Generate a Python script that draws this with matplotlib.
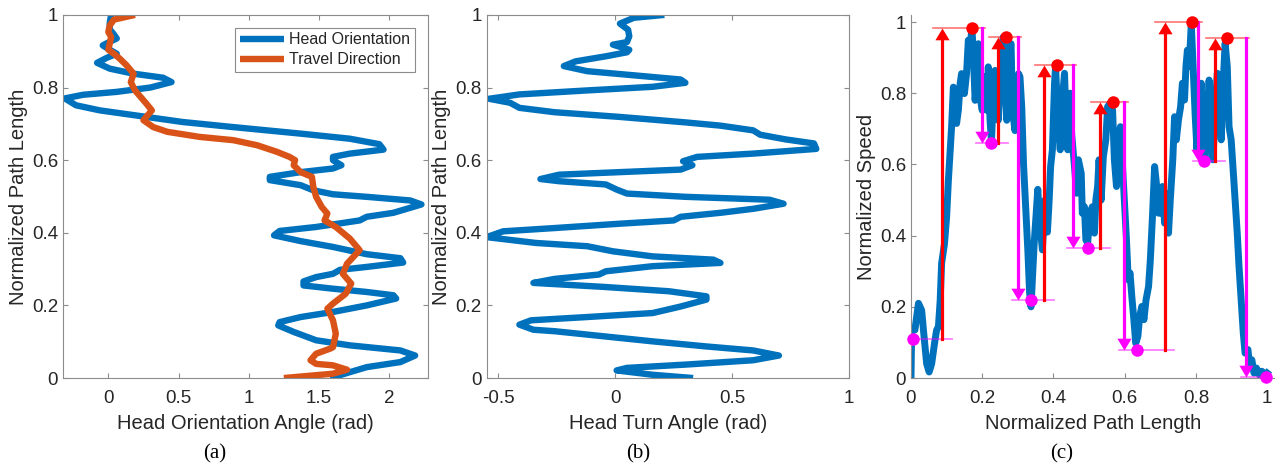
import matplotlib
matplotlib.use("Agg")
import matplotlib.pyplot as plt

# panel (a): head orientation vs travel direction along the path
head_x = [1.58, 1.84, 2.08, 2.185, 2.08, 1.72, 1.48, 1.32, 1.21, 1.22,
          1.37, 1.60, 1.84, 2.05, 2.03, 1.84, 1.60, 1.39, 1.39, 1.48,
          1.60, 1.65, 1.84, 2.10, 2.08, 1.84, 1.60, 1.37, 1.18, 1.22,
          1.48, 1.79, 1.84, 2.03, 2.23, 2.15, 1.84, 1.60, 1.46, 1.37,
          1.15, 1.15, 1.37, 1.60, 1.66, 1.60, 1.60, 1.72, 1.96, 1.93,
          1.72, 1.37, 0.89, 0.53, 0.18, -0.06, -0.23, -0.31, -0.18, 0.06,
          0.30, 0.45, 0.39, 0.18, 0.01, -0.08, -0.01, 0.06, 0.01, -0.04,
          0.01, 0.06, 0.04, 0.01, 0.01, 0.02]
head_y = [0.0, 0.03, 0.044, 0.062, 0.076, 0.09, 0.104, 0.127, 0.145, 0.154,
          0.168, 0.182, 0.2, 0.219, 0.228, 0.237, 0.246, 0.255, 0.266, 0.278,
          0.287, 0.298, 0.306, 0.318, 0.33, 0.341, 0.361, 0.377, 0.393, 0.405,
          0.416, 0.434, 0.444, 0.455, 0.478, 0.489, 0.499, 0.506, 0.517, 0.531,
          0.545, 0.554, 0.567, 0.577, 0.586, 0.6, 0.609, 0.618, 0.629, 0.644,
          0.659, 0.673, 0.691, 0.705, 0.724, 0.737, 0.751, 0.77, 0.78, 0.788,
          0.80, 0.815, 0.827, 0.838, 0.852, 0.868, 0.882, 0.893, 0.904, 0.916,
          0.926, 0.935, 0.946, 0.96, 0.978, 1.0]
travel_x = [1.25, 1.60, 1.70, 1.60, 1.48, 1.44, 1.48, 1.58, 1.60, 1.62,
            1.60, 1.56, 1.60, 1.69, 1.73, 1.67, 1.70, 1.79, 1.72, 1.62,
            1.54, 1.56, 1.52, 1.48, 1.46, 1.45, 1.37, 1.32, 1.33, 1.29,
            1.20, 1.06, 0.89, 0.65, 0.42, 0.32, 0.25, 0.31, 0.27, 0.23,
            0.19, 0.16, 0.18, 0.13, 0.08, 0.04, 0.00, 0.01, 0.02, 0.00,
            0.01, 0.04, 0.19]
travel_y = [0.0, 0.012, 0.023, 0.035, 0.039, 0.049, 0.067, 0.081, 0.085, 0.122,
            0.159, 0.191, 0.205, 0.232, 0.26, 0.287, 0.315, 0.352, 0.384, 0.416,
            0.434, 0.453, 0.471, 0.499, 0.526, 0.554, 0.567, 0.586, 0.6, 0.609,
            0.623, 0.641, 0.655, 0.664, 0.678, 0.691, 0.71, 0.737, 0.756, 0.774,
            0.792, 0.815, 0.838, 0.861, 0.88, 0.893, 0.904, 0.921, 0.939, 0.953,
            0.971, 0.987, 1.0]

# panel (b): head turn angle
turn_x = [0.333, 0.16, 0.006, 0.05, 0.30, 0.59, 0.70, 0.59, 0.39, 0.16,
          -0.05, -0.26, -0.35, -0.41, -0.36, -0.12, 0.16, 0.28, 0.39, 0.39,
          0.23, -0.05, -0.35, -0.26, -0.07, -0.04, 0.16, 0.45, 0.42, 0.16,
          -0.01, -0.12, -0.34, -0.55, -0.48, -0.26, 0.02, 0.25, 0.28, 0.45,
          0.59, 0.72, 0.66, 0.30, 0.05, 0.006, -0.04, -0.24, -0.32, -0.24,
          0.02, 0.28, 0.33, 0.29, 0.35, 0.59, 0.86, 0.85, 0.73, 0.62,
          0.59, 0.45, 0.30, 0.02, -0.26, -0.41, -0.45, -0.54, -0.41, -0.12,
          0.16, 0.30, 0.28, 0.09, -0.12, -0.22, -0.17, -0.04, 0.05, 0.06,
          -0.01, 0.05, 0.06, 0.055, 0.02, 0.08, 0.21]
turn_y = [0.0, 0.009, 0.021, 0.028, 0.037, 0.049, 0.062, 0.076, 0.087, 0.101,
          0.115, 0.129, 0.133, 0.147, 0.159, 0.168, 0.179, 0.197, 0.216, 0.225,
          0.239, 0.251, 0.262, 0.273, 0.285, 0.294, 0.308, 0.317, 0.326, 0.335,
          0.349, 0.363, 0.372, 0.388, 0.404, 0.413, 0.425, 0.434, 0.444, 0.455,
          0.466, 0.48, 0.491, 0.499, 0.508, 0.519, 0.533, 0.542, 0.548, 0.56,
          0.567, 0.574, 0.586, 0.597, 0.609, 0.618, 0.631, 0.646, 0.657, 0.67,
          0.682, 0.695, 0.704, 0.719, 0.732, 0.744, 0.758, 0.769, 0.781, 0.792,
          0.802, 0.813, 0.822, 0.833, 0.845, 0.859, 0.872, 0.886, 0.897, 0.904,
          0.918, 0.925, 0.941, 0.959, 0.976, 0.992, 1.0]

# panel (c): normalized speed along the path
path_x = [0.000, 0.002, 0.011, 0.021, 0.030, 0.035, 0.044, 0.051, 0.058, 0.066,
          0.072, 0.077, 0.082, 0.086, 0.094, 0.100, 0.105, 0.110, 0.114, 0.119,
          0.124, 0.128, 0.133, 0.138, 0.142, 0.150, 0.156, 0.161, 0.166, 0.171,
          0.175, 0.180, 0.185, 0.189, 0.194, 0.200, 0.206, 0.213, 0.217, 0.222,
          0.226, 0.231, 0.236, 0.240, 0.245, 0.253, 0.259, 0.264, 0.269, 0.275,
          0.281, 0.285, 0.292, 0.297, 0.302, 0.306, 0.311, 0.316, 0.322, 0.328,
          0.333, 0.337, 0.341, 0.346, 0.350, 0.356, 0.362, 0.369, 0.376, 0.383,
          0.388, 0.392, 0.397, 0.403, 0.406, 0.412, 0.419, 0.425, 0.431, 0.435,
          0.440, 0.447, 0.451, 0.459, 0.465, 0.470, 0.478, 0.481, 0.487, 0.491,
          0.496, 0.503, 0.509, 0.515, 0.519, 0.524, 0.528, 0.534, 0.540, 0.547,
          0.552, 0.559, 0.566, 0.571, 0.577, 0.582, 0.588, 0.594, 0.599, 0.605,
          0.610, 0.615, 0.620, 0.625, 0.631, 0.637, 0.642, 0.648, 0.654, 0.660,
          0.667, 0.672, 0.678, 0.684, 0.689, 0.695, 0.701, 0.706, 0.712, 0.717,
          0.723, 0.728, 0.735, 0.740, 0.745, 0.751, 0.757, 0.762, 0.768, 0.772,
          0.776, 0.781, 0.787, 0.792, 0.798, 0.803, 0.809, 0.815, 0.820, 0.826,
          0.831, 0.837, 0.843, 0.848, 0.854, 0.860, 0.865, 0.871, 0.876, 0.882,
          0.888, 0.893, 0.899, 0.904, 0.910, 0.916, 0.921, 0.927, 0.933, 0.938,
          0.946, 0.951, 0.957, 0.963, 0.970, 0.978, 0.985, 0.996, 1.000]
speed = [0.000, 0.139, 0.135, 0.210, 0.190, 0.135, 0.040, 0.017, 0.040, 0.097,
         0.135, 0.144, 0.219, 0.322, 0.377, 0.452, 0.555, 0.639, 0.705, 0.817,
         0.780, 0.715, 0.752, 0.827, 0.855, 0.799, 0.855, 0.949, 0.920, 0.986,
         0.911, 0.780, 0.846, 0.939, 0.789, 0.752, 0.846, 0.752, 0.874, 0.724,
         0.663, 0.799, 0.864, 0.799, 0.724, 0.846, 0.958, 0.864, 0.724, 0.920,
         0.939, 0.752, 0.695, 0.799, 0.855, 0.846, 0.760, 0.600, 0.480, 0.360,
         0.240, 0.200, 0.280, 0.380, 0.440, 0.530, 0.430, 0.360, 0.500, 0.410,
         0.500, 0.594, 0.641, 0.828, 0.875, 0.734, 0.641, 0.781, 0.856, 0.734,
         0.641, 0.800, 0.687, 0.594, 0.519, 0.613, 0.575, 0.463, 0.481, 0.388,
         0.379, 0.463, 0.481, 0.407, 0.500, 0.538, 0.613, 0.500, 0.622, 0.669,
         0.762, 0.772, 0.753, 0.613, 0.538, 0.669, 0.706, 0.594, 0.500, 0.388,
         0.276, 0.295, 0.229, 0.173, 0.098, 0.117, 0.173, 0.201, 0.164, 0.220,
         0.257, 0.332, 0.454, 0.594, 0.547, 0.463, 0.463, 0.538, 0.435, 0.519,
         0.407, 0.500, 0.613, 0.734, 0.669, 0.725, 0.762, 0.828, 0.781, 0.875,
         0.921, 0.875, 0.996, 0.875, 0.734, 0.641, 0.781, 0.828, 0.641, 0.613,
         0.725, 0.837, 0.688, 0.613, 0.762, 0.856, 0.781, 0.669, 0.819, 0.940,
         0.875, 0.706, 0.669, 0.594, 0.500, 0.407, 0.313, 0.220, 0.126, 0.070,
         0.080, 0.033, 0.051, 0.014, 0.028, 0.009, 0.019, 0.009, 0.014]

# detected peaks / valleys and where the rise/fall arrows are drawn
peak_x = [0.170, 0.266, 0.409, 0.566, 0.790, 0.887]
peak_y = [0.984, 0.957, 0.879, 0.776, 1.000, 0.954]
valley_x = [0.005, 0.225, 0.336, 0.496, 0.634, 0.823, 0.996]
valley_y = [0.109, 0.660, 0.220, 0.365, 0.080, 0.611, 0.003]
rise_x = [0.088, 0.245, 0.374, 0.532, 0.712, 0.854]
fall_x = [0.198, 0.300, 0.454, 0.599, 0.807, 0.941]

BLUE = '#0072BD'
ORANGE = '#D95319'
GREY = '#262626'
SPINE = '#8c8c8c'

plt.rcParams['font.family'] = ['Liberation Sans', 'DejaVu Sans']
plt.rcParams['axes.edgecolor'] = SPINE
plt.rcParams['axes.linewidth'] = 0.8
plt.rcParams['xtick.color'] = SPINE
plt.rcParams['ytick.color'] = SPINE
plt.rcParams['xtick.labelcolor'] = GREY
plt.rcParams['ytick.labelcolor'] = GREY

fig = plt.figure(figsize=(12.75, 4.65), dpi=100)
ax_a = fig.add_axes([0.0494, 0.187, 0.2861, 0.781])
ax_b = fig.add_axes([0.3817, 0.187, 0.2842, 0.781])
ax_c = fig.add_axes([0.7145, 0.187, 0.2855, 0.781])

lw = 4.6
tick_size = 13.5
label_size = 14.5

# (a)
ax_a.plot(head_x, head_y, color=BLUE, lw=lw, solid_joinstyle='round',
          solid_capstyle='butt', label='Head Orientation')
ax_a.plot(travel_x, travel_y, color=ORANGE, lw=lw, solid_joinstyle='round',
          solid_capstyle='butt', label='Travel Direction')
ax_a.set_xlim(-0.323, 2.275)
ax_a.set_xticks([0, 0.5, 1, 1.5, 2])
ax_a.set_xticklabels(['0', '0.5', '1', '1.5', '2'])
ax_a.set_xlabel('Head Orientation Angle (rad)', fontsize=label_size, color=GREY,
                labelpad=5)
leg = ax_a.legend(loc='upper right', fontsize=11.5, handlelength=2.8,
                  fancybox=False, framealpha=1, edgecolor=SPINE,
                  borderpad=0.3, labelspacing=0.3, handletextpad=0.3,
                  borderaxespad=0.8)
leg.get_frame().set_linewidth(0.8)
for t in leg.get_texts():
    t.set_color(GREY)

# (b)
ax_b.plot(turn_x, turn_y, color=BLUE, lw=lw, solid_joinstyle='round',
          solid_capstyle='butt')
ax_b.set_xlim(-0.55, 1.0)
ax_b.set_xticks([-0.5, 0, 0.5, 1])
ax_b.set_xticklabels(['-0.5', '0', '0.5', '1'])
ax_b.set_xlabel('Head Turn Angle (rad)', fontsize=label_size, color=GREY, labelpad=5)

for ax in (ax_a, ax_b):
    ax.set_ylim(0, 1)
    ax.set_yticks([0, 0.2, 0.4, 0.6, 0.8, 1])
    ax.set_yticklabels(['0', '0.2', '0.4', '0.6', '0.8', '1'])
    ax.set_ylabel('Normalized Path Length', fontsize=label_size, color=GREY,
                  labelpad=3)
    ax.tick_params(direction='in', top=True, right=True, length=3.5,
                   width=0.8, labelsize=tick_size)
    ax.tick_params(axis='x', pad=8.5)
    ax.tick_params(axis='y', pad=3.5)

# (c)
ax_c.plot(path_x, speed, color=BLUE, lw=5, solid_joinstyle='round', zorder=2)

up_tri = [(0, 0), (-0.6, -1), (0.6, -1), (0, 0)]
down_tri = [(0, 0), (-0.6, 1), (0.6, 1), (0, 0)]

for i in range(len(peak_x)):
    # horizontal guides at the valley before the rise and at the peak
    x0 = valley_x[0] if i == 0 else fall_x[i - 1] - 0.015
    ax_c.plot([x0, rise_x[i] + 0.027], [valley_y[i], valley_y[i]],
              color='#ff00ff', lw=1.2, alpha=0.55, zorder=3)
    ax_c.plot([rise_x[i] - 0.027, fall_x[i] + 0.009], [peak_y[i], peak_y[i]],
              color='#ff0000', lw=1.2, alpha=0.55, zorder=3)
    # rise arrow (red) and fall arrow (magenta)
    ax_c.plot([rise_x[i], rise_x[i]], [valley_y[i], peak_y[i] - 0.02],
              color='#ff0000', lw=2.3, zorder=4)
    ax_c.plot([rise_x[i]], [peak_y[i]], marker=up_tri, ms=17, color='#ff0000',
              mec='none', zorder=5)
    ax_c.plot([fall_x[i], fall_x[i]], [peak_y[i], valley_y[i + 1] + 0.02],
              color='#ff00ff', lw=2.3, zorder=4)
    ax_c.plot([fall_x[i]], [valley_y[i + 1]], marker=down_tri, ms=17,
              color='#ff00ff', mec='none', zorder=5)

ax_c.plot([valley_x[-1] - 0.07, valley_x[-1]], [valley_y[-1], valley_y[-1]],
          color='#ff00ff', lw=1.2, alpha=0.55, zorder=3)

ax_c.plot(peak_x, peak_y, 'o', ms=9, color='#ff0000', mec='none', zorder=6,
          clip_on=False)
ax_c.plot(valley_x, valley_y, 'o', ms=9, color='#ff00ff', mec='none', zorder=6,
          clip_on=False)

ax_c.set_xlim(0, 1.022)
ax_c.set_ylim(0, 1.02)
ax_c.set_xticks([0, 0.2, 0.4, 0.6, 0.8, 1])
ax_c.set_xticklabels(['0', '0.2', '0.4', '0.6', '0.8', '1'])
ax_c.set_yticks([0, 0.2, 0.4, 0.6, 0.8, 1])
ax_c.set_yticklabels(['0', '0.2', '0.4', '0.6', '0.8', '1'])
ax_c.spines['top'].set_visible(False)
ax_c.spines['right'].set_visible(False)
ax_c.tick_params(direction='in', length=3.5, width=0.8, labelsize=tick_size)
ax_c.tick_params(axis='x', pad=8.5)
ax_c.tick_params(axis='y', pad=3.5)
ax_c.set_xlabel('Normalized Path Length', fontsize=label_size, color=GREY, labelpad=5)
ax_c.set_ylabel('Normalized Speed', fontsize=label_size, color=GREY, labelpad=3)

# sub-figure captions
for label, xc in (('(a)', 215), ('(b)', 638), ('(c)', 1062)):
    fig.text(xc / 1275, 1 - 454 / 465, label, ha='center', va='center',
             fontsize=15, family=['Liberation Serif', 'DejaVu Serif'], color='black')

fig.savefig('out.png', dpi=100)
